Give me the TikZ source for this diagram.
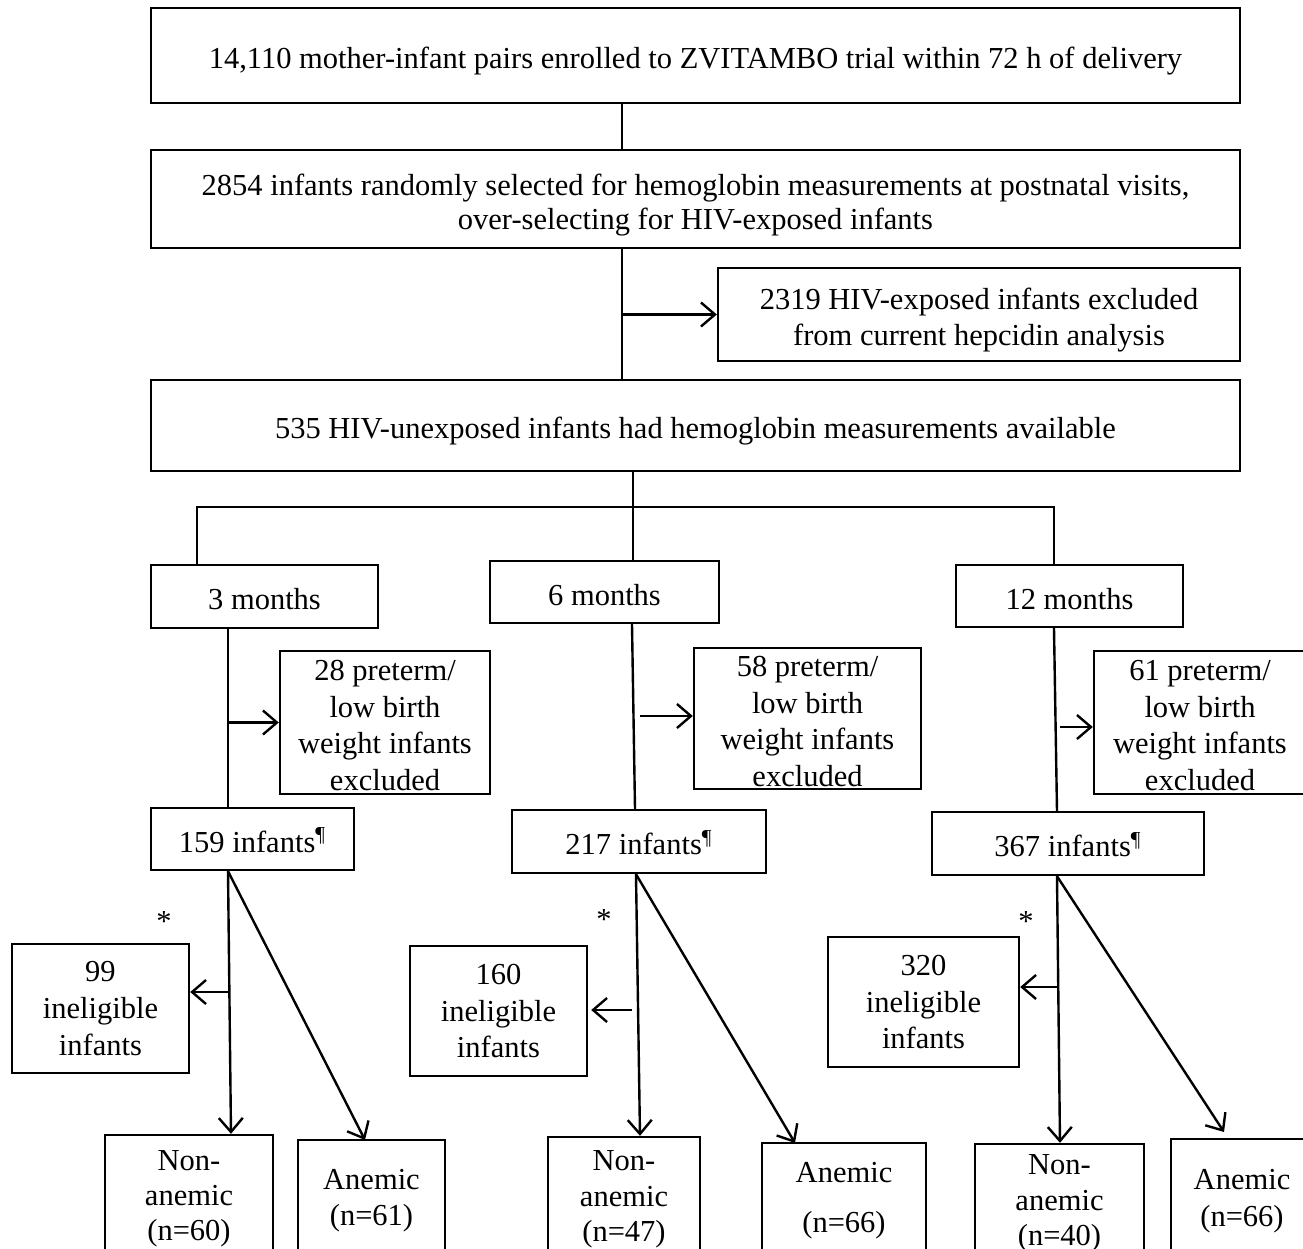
\documentclass[tikz,border=0pt]{standalone}
\usepackage{fontspec}
\setmainfont{Liberation Serif}
\usepackage{tikz}
\usetikzlibrary{arrows.meta,positioning,calc}
% struts for the first line of a box
\newcommand{\boxstrut}{\rule{0pt}{17pt}}
\newcommand{\lowstrut}{\rule{0pt}{14pt}}

\begin{document}
\begin{tikzpicture}[
    x=0.5pt, y=-0.5pt,
    font=\fontsize{15.25}{18.4}\selectfont,
    line width=1.2pt,
    % all boxes of the chart; struts keep the text level in each box
    box/.style={draw, line width=1.2pt, align=center, inner xsep=0pt, inner ysep=-6pt,
      execute at end node={\rule[-4pt]{0pt}{4pt}}},
    arr/.style={-{Straight Barb[length=7pt,width=12pt]}},
  ]
    \useasboundingbox (0,0) rectangle (1303,1249);
    \clip (0,0) rectangle (1303,1249);

    % top of the chart
    \node[box, minimum width=544.5pt, minimum height=47.5pt] (enrol) at (695.5,55.5)
      {\boxstrut 14,110 mother-infant pairs enrolled to ZVITAMBO trial within 72 h of delivery};
    \node[box, minimum width=544.5pt, minimum height=49pt, font=\fontsize{15.25}{17}\selectfont] (select) at (695.5,199)
      {\boxstrut 2854 infants randomly selected for hemoglobin measurements at postnatal visits,\\
       over-selecting for HIV-exposed infants};
    \node[box, minimum width=261pt, minimum height=46.5pt] (exposed) at (979,314.5)
      {\boxstrut 2319 HIV-exposed infants excluded\\ from current hepcidin analysis};
    \node[box, minimum width=544.5pt, minimum height=45.5pt] (unexp) at (695.5,425.5)
      {\boxstrut 535 HIV-unexposed infants had hemoglobin measurements available};

    % visits
    \node[box, minimum width=113.5pt, minimum height=31.5pt] (m3) at (264.5,596.5) {\boxstrut 3 months};
    \node[box, minimum width=114.5pt, minimum height=31pt] (m6) at (604.5,592) {\boxstrut 6 months};
    \node[box, minimum width=113.5pt, minimum height=31pt] (m12) at (1069.5,596) {\boxstrut 12 months};

    \node[box, minimum width=105pt, minimum height=71.5pt] (pre3) at (385,722.5)
      {\boxstrut 28 preterm/\\ low birth\\ weight infants\\ excluded};
    \node[box, minimum width=113.5pt, minimum height=70.5pt] (pre6) at (807.5,718.5)
      {\boxstrut 58 preterm/\\ low birth\\ weight infants\\ excluded};
    \node[box, minimum width=106pt, minimum height=71.5pt] (pre12) at (1200,722.5)
      {\boxstrut 61 preterm/\\ low birth\\ weight infants\\ excluded};

    \node[box, minimum width=101.5pt, minimum height=31pt] (n3) at (252.5,839) {\boxstrut 159 infants\textsuperscript{¶}};
    \node[box, minimum width=127pt, minimum height=31.5pt] (n6) at (639,841.5) {\boxstrut 217 infants\textsuperscript{¶}};
    \node[box, minimum width=136pt, minimum height=31.5pt] (n12) at (1068,843.5) {\boxstrut 367 infants\textsuperscript{¶}};

    \node[box, minimum width=88.5pt, minimum height=64.5pt] (inel3) at (100.5,1008.5) {\lowstrut 99\\ ineligible\\ infants};
    \node[box, minimum width=88.5pt, minimum height=65pt] (inel6) at (498.5,1011) {\lowstrut 160\\ ineligible\\ infants};
    \node[box, minimum width=95.5pt, minimum height=65pt] (inel12) at (923.5,1002) {\lowstrut 320\\ ineligible\\ infants};
    \node (star3) at (164,922) {*};
    \node (star6) at (604,920) {*};
    \node (star12) at (1026,922) {*};

    % outcome boxes (cut by the page edge)
    \node[box, minimum width=84pt, minimum height=60.5pt, font=\fontsize{15.25}{17.6}\selectfont] (non3) at (189,1195.5) {\lowstrut Non-\\ anemic\\ (n=60)};
    \node[box, minimum width=73.5pt, minimum height=57.5pt] (an3) at (371.5,1197.5) {\lowstrut Anemic\\ (n=61)};
    \node[box, minimum width=76pt, minimum height=59pt, font=\fontsize{15.25}{17.6}\selectfont] (non6) at (624,1196) {\lowstrut Non-\\ anemic\\ (n=47)};
    \node[box, minimum width=82pt, minimum height=54pt] (an6) at (844,1197) {\lowstrut Anemic\\[6.6pt] (n=66)};
    \node[box, minimum width=84.5pt, minimum height=56pt, font=\fontsize{15.25}{17.6}\selectfont] (non12) at (1059.5,1200) {\lowstrut Non-\\ anemic\\ (n=40)};
    \node[box, minimum width=71pt, minimum height=59pt] (an12) at (1242,1198) {\lowstrut Anemic\\ (n=66)};

    % stems and branch points
    \coordinate (stem) at (622,0);
    \coordinate (bus) at (633,507);
    \coordinate (bus3) at (197,507);
    \coordinate (bus12) at (1054,507);
    \coordinate (c3) at (228,0);
    \coordinate (c6a) at (632,0);
    \coordinate (c6b) at (635,0);
    \coordinate (p6) at (640,716);
    \coordinate (c12a) at (1054,0);
    \coordinate (c12b) at (1057,0);
    \coordinate (p12) at (1060,727);
    \coordinate (d3) at (231,0);
    \coordinate (d6) at (636,0);
    \coordinate (e6) at (640,0);
    \coordinate (d12) at (1057,0);
    \coordinate (e12) at (1060,0);
    \coordinate (a3) at (365,1140);
    \coordinate (a6) at (795,1143);
    \coordinate (a12) at (1224,1132);
    \coordinate (q6) at (632,1010);

    \draw (enrol.south -| stem) -- (select.north -| stem);
    \draw (select.south -| stem) -- (unexp.north -| stem);
    \draw[arr] (stem |- exposed.west) -- (exposed.west);
    \draw (unexp.south -| bus) -- (m6.north -| bus);
    \draw (bus3 |- m3.north) -- (bus3) -- (bus12) -- (bus12 |- m12.north);

    % preterm exclusions
    \draw (m3.south -| c3) -- (n3.north -| c3);
    \draw[arr] (c3 |- pre3.west) -- (pre3.west);
    \draw (m6.south -| c6a) -- (n6.north -| c6b);
    \draw[arr] (p6) -- (p6 -| pre6.west);
    \draw (m12.south -| c12a) -- (n12.north -| c12b);
    \draw[arr] (p12) -- (p12 -| pre12.west);

    % split by anemia
    \draw[arr] (n3.south -| c3) -- (non3.north -| d3);
    \draw[arr] (n3.south -| c3) -- (a3);
    \draw[arr] (c3 |- 0,992) -- (inel3.east |- 0,992);
    \draw[arr] (n6.south -| d6) -- (non6.north -| e6);
    \draw[arr] (n6.south -| d6) -- (a6);
    \draw[arr] (q6) -- ([xshift=1.5pt]q6 -| inel6.east);
    \draw[arr] (n12.south -| d12) -- (non12.north -| e12);
    \draw[arr] (n12.south -| d12) -- (a12);
    \draw[arr] (d12 |- 0,987) -- (inel12.east |- 0,987);
\end{tikzpicture}
\end{document}
